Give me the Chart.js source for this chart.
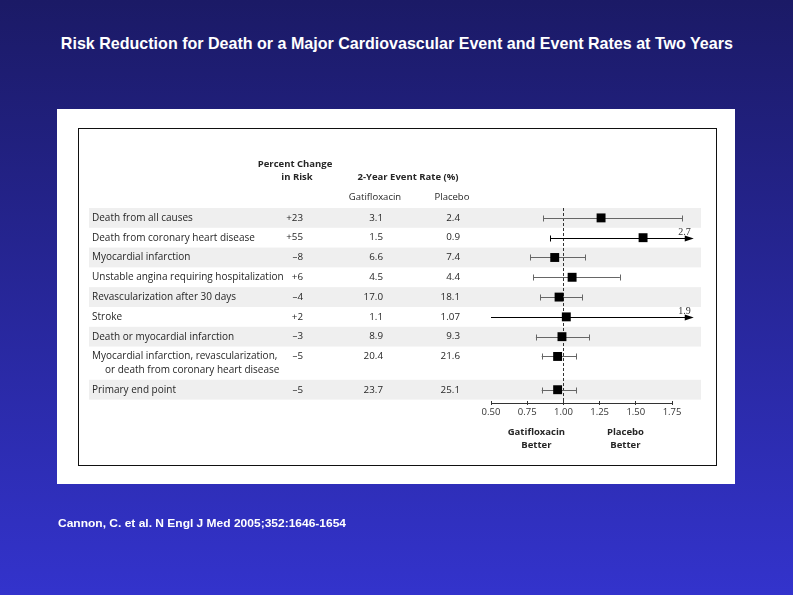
<!DOCTYPE html>
<html>
<head>
<meta charset="utf-8">
<title>Risk Reduction for Death or a Major Cardiovascular Event</title>
<script src="https://cdn.jsdelivr.net/npm/chart.js@4.4.0/dist/chart.umd.min.js"></script>
<style>
  html, body { margin: 0; padding: 0; }
  body {
    width: 793px; height: 595px; overflow: hidden; position: relative;
    background: linear-gradient(to bottom, #1b1a66 0%, #3333cc 100%);
    font-family: "Liberation Sans", Arial, sans-serif;
  }
  #title {
    position: absolute; left: 0; top: 34px; width: 793px; text-align: center;
    color: #fff; font-weight: bold; font-size: 17px; white-space: nowrap;
  }
  #title span { display: inline-block; transform-origin: center center; }
  #cite {
    position: absolute; left: 58px; top: 517px; color: #fff; font-weight: bold;
    font-size: 11.5px; white-space: nowrap; transform-origin: left center;
  }
  #panel { position: absolute; left: 57px; top: 109px; width: 678px; height: 375px; background: #fff; }
  #frame { position: absolute; left: 78px; top: 128px; width: 637px; height: 336px; border: 1px solid #111; }
  #chart { position: absolute; left: 0; top: 0; }
</style>
</head>
<body>
<div id="title"><span>Risk Reduction for Death or a Major Cardiovascular Event and Event Rates at Two Years</span></div>
<div id="panel"></div>
<div id="frame"></div>
<canvas id="chart" width="793" height="595"></canvas>
<div id="cite">Cannon, C. et al. N Engl J Med 2005;352:1646-1654</div>

<script>
// Table rows (a row may wrap onto a second line)
const rowLabels = [
    ['Death from all causes'],
    ['Death from coronary heart disease'],
    ['Myocardial infarction'],
    ['Unstable angina requiring hospitalization'],
    ['Revascularization after 30 days'],
    ['Stroke'],
    ['Death or myocardial infarction'],
    ['Myocardial infarction, revascularization,', 'or death from coronary heart disease'],
    ['Primary end point']
];
const percentChange = ['+23', '+55', '\u20138', '+6', '\u20134', '+2', '\u20133', '\u20135', '\u20135'];
const gatifloxacinRate = ['3.1', '1.5', '6.6', '4.5', '17.0', '1.1', '8.9', '20.4', '23.7'];
const placeboRate = ['2.4', '0.9', '7.4', '4.4', '18.1', '1.07', '9.3', '21.6', '25.1'];

// Hazard ratios with 95% CI
const hazardRatio = [1.26, 1.55, 0.94, 1.06, 0.97, 1.02, 0.99, 0.96, 0.96];
const ciLow  = [0.86, 0.91, 0.77, 0.79, 0.84, 0.49, 0.81, 0.85, 0.85];
const ciHigh = [1.82, 2.7, 1.15, 1.39, 1.13, 1.9, 1.18, 1.09, 1.09];

const xTicks = [0.50, 0.75, 1.00, 1.25, 1.50, 1.75];
const ARROW_AT = 1.9;   // CIs reaching this are cut with an arrow
const X_MIN = 0.5;

// row positions in "row units", second text line adds a bit of height
const EXTRA_LINE = 0.68;
const rowTop = [];
let acc = 0;
rowLabels.forEach(lines => {
    rowTop.push(acc);
    acc += 1 + (lines.length - 1) * EXTRA_LINE;
});
const rowHeight = rowLabels.map(l => 1 + (l.length - 1) * EXTRA_LINE);
const rowY = rowTop.map(t => t + 0.5);
const yMax = acc + 0.07;

const FONT = '"Open Sans", "DejaVu Sans", sans-serif';
const TEXT = '#262626';

const forestPlugin = {
    id: 'forest',
    beforeDatasetsDraw(chart) {
        const { ctx, chartArea } = chart;
        const xs = chart.scales.x, ys = chart.scales.y;
        ctx.save();

        // shaded stripes on alternate rows
        ctx.fillStyle = '#efefef';
        rowTop.forEach((t, i) => {
            if (i % 2) return;
            const y0 = ys.getPixelForValue(t);
            const y1 = ys.getPixelForValue(t + rowHeight[i]);
            ctx.fillRect(89, y0, chartArea.right - 89, y1 - y0);
        });

        // reference line at 1.00
        const x1 = Math.round(xs.getPixelForValue(1)) + 0.5;
        ctx.strokeStyle = '#333';
        ctx.lineWidth = 1;
        ctx.setLineDash([3, 2]);
        ctx.beginPath();
        ctx.moveTo(x1, chartArea.top);
        ctx.lineTo(x1, chartArea.bottom + 2);
        ctx.stroke();
        ctx.setLineDash([]);

        // confidence intervals
        hazardRatio.forEach((hr, i) => {
            const y = Math.round(ys.getPixelForValue(rowY[i])) + 0.5;
            const clipped = ciHigh[i] >= ARROW_AT;
            const lo = Math.max(ciLow[i], X_MIN);
            const hi = clipped ? ARROW_AT : ciHigh[i];
            const px0 = xs.getPixelForValue(lo);
            const px1 = xs.getPixelForValue(hi);
            ctx.strokeStyle = clipped ? '#000' : '#666';
            ctx.fillStyle = '#000';
            ctx.beginPath();
            ctx.moveTo(px0, y);
            ctx.lineTo(clipped ? px1 - 6 : px1, y);
            ctx.stroke();
            ctx.beginPath();
            if (ciLow[i] >= X_MIN) {
                ctx.moveTo(Math.round(px0) + 0.5, y - 3);
                ctx.lineTo(Math.round(px0) + 0.5, y + 3);
            }
            if (!clipped) {
                ctx.moveTo(Math.round(px1) + 0.5, y - 3);
                ctx.lineTo(Math.round(px1) + 0.5, y + 3);
            }
            ctx.stroke();
            if (clipped) {
                ctx.beginPath();
                ctx.moveTo(px1, y);
                ctx.lineTo(px1 - 9, y - 3);
                ctx.lineTo(px1 - 9, y + 3);
                ctx.closePath();
                ctx.fill();
                ctx.font = '10px "Liberation Serif", serif';
                ctx.fillStyle = '#333';
                ctx.textAlign = 'right';
                ctx.textBaseline = 'alphabetic';
                ctx.fillText(ciHigh[i].toFixed(1), px1 - 3, y - 4);
            }
        });

        // axis line, only over the labelled range
        const ay = chartArea.bottom + 2.5;
        ctx.strokeStyle = '#333';
        ctx.beginPath();
        ctx.moveTo(xs.getPixelForValue(xTicks[0]), ay);
        ctx.lineTo(xs.getPixelForValue(xTicks[xTicks.length - 1]) + 1, ay);
        ctx.stroke();
        ctx.restore();
    },
    afterDraw(chart) {
        const { ctx, chartArea } = chart;
        const xs = chart.scales.x, ys = chart.scales.y;
        const top = chartArea.top;
        ctx.save();
        ctx.fillStyle = TEXT;
        ctx.textBaseline = 'middle';

        // column headers
        ctx.font = 'bold 9.5px ' + FONT;
        ctx.textAlign = 'center';
        ctx.fillText('Percent Change', 295, top - 44);
        ctx.fillText('in Risk', 297, top - 31);
        ctx.fillText('2-Year Event Rate (%)', 408, top - 31);
        ctx.font = '9.5px ' + FONT;
        ctx.fillText('Gatifloxacin', 375, top - 11);
        ctx.fillText('Placebo', 452, top - 11);

        // rows
        rowLabels.forEach((lines, i) => {
            const y = ys.getPixelForValue(rowY[i]);
            ctx.font = '10px ' + FONT;
            ctx.textAlign = 'left';
            lines.forEach((line, k) => {
                ctx.fillText(line, k ? 105 : 92, ys.getPixelForValue(rowY[i] + k * EXTRA_LINE));
            });
            ctx.font = '9.8px ' + FONT;
            ctx.textAlign = 'right';
            ctx.fillText(percentChange[i], 303, y);
            ctx.fillText(gatifloxacinRate[i], 383, y);
            ctx.fillText(placeboRate[i], 460, y);
        });

        // direction labels under the axis
        ctx.font = 'bold 9.5px ' + FONT;
        ctx.textAlign = 'center';
        const bx = xs.getPixelForValue(1);
        ctx.fillText('Gatifloxacin', bx - 27, chartArea.bottom + 31);
        ctx.fillText('Better', bx - 27, chartArea.bottom + 44);
        ctx.fillText('Placebo', bx + 62, chartArea.bottom + 31);
        ctx.fillText('Better', bx + 62, chartArea.bottom + 44);
        ctx.restore();
    }
};

const chart = new Chart(document.getElementById('chart'), {
    type: 'scatter',
    data: {
        datasets: [{
            data: hazardRatio.map((v, i) => ({ x: v, y: rowY[i] })),
            pointStyle: 'rect',
            pointRadius: 6.3,
            backgroundColor: '#000',
            borderWidth: 0
        }]
    },
    options: {
        responsive: false,
        animation: false,
        events: [],
        layout: { padding: { left: 491, right: 92, top: 208, bottom: 164 } },
        plugins: { legend: { display: false }, tooltip: { enabled: false } },
        scales: {
            x: {
                type: 'linear',
                min: X_MIN,
                max: 1.95,
                afterFit: s => { s.height = 30; },
                afterBuildTicks: s => { s.ticks = xTicks.map(v => ({ value: v })); },
                border: { display: false },
                grid: { drawOnChartArea: false, drawTicks: true, tickLength: 4, color: '#333' },
                ticks: {
                    autoSkip: false,
                    maxRotation: 0,
                    padding: 2,
                    color: '#333',
                    font: { family: FONT, size: 9.5 },
                    callback: v => Number(v).toFixed(2)
                }
            },
            y: {
                type: 'linear',
                display: false,
                reverse: true,
                min: 0,
                max: yMax
            }
        }
    },
    plugins: [forestPlugin]
});

// squeeze the title and citation to the width they have on the slide
function fitWidth(el, target) {
    const w = el.getBoundingClientRect().width;
    if (w > 0) el.style.transform = 'scaleX(' + (target / w) + ')';
}
fitWidth(document.querySelector('#title span'), 672);
fitWidth(document.getElementById('cite'), 288);
</script>
</body>
</html>
